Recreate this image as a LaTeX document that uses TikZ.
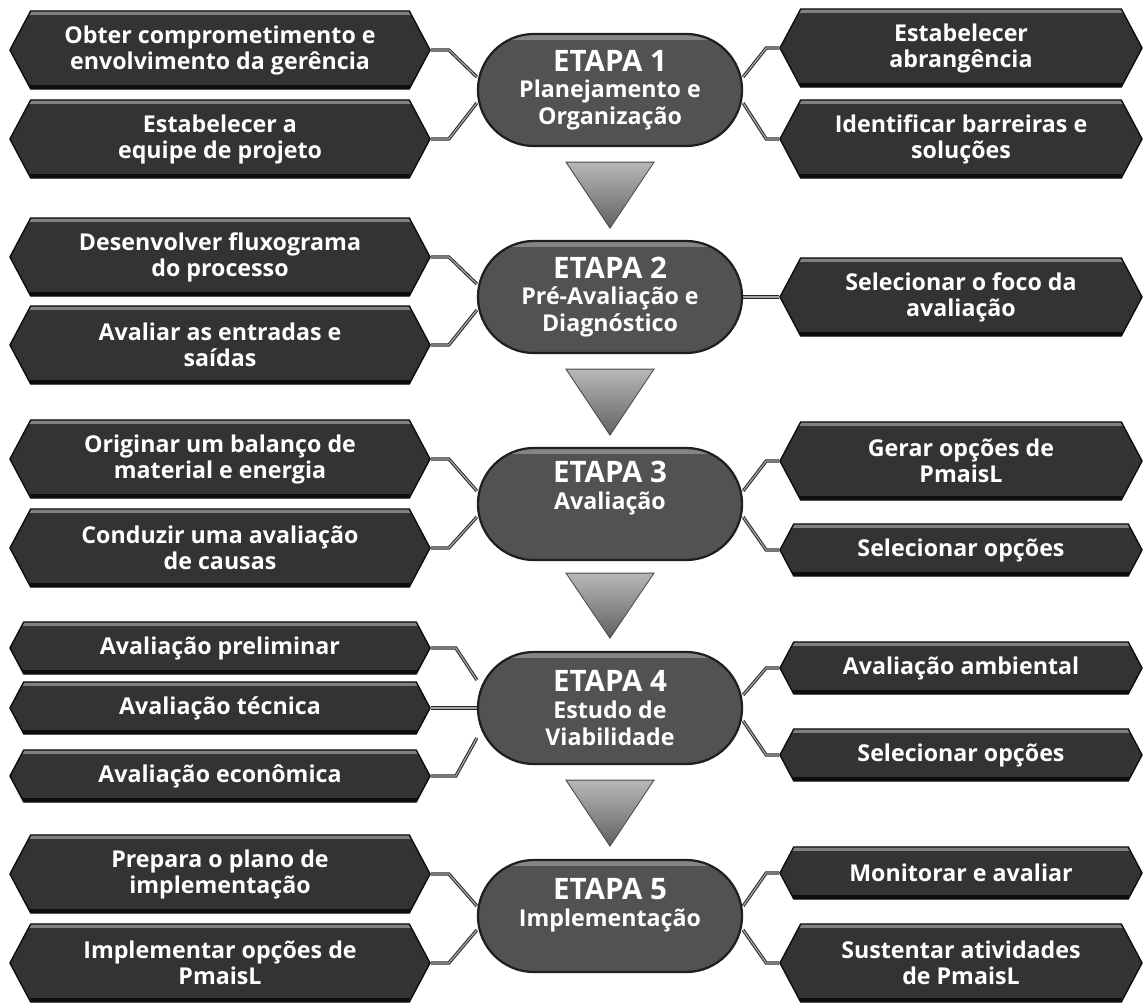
\documentclass[tikz,border=0pt]{standalone}
\usepackage{fontspec}
\setmainfont{Open Sans}
\usetikzlibrary{calc,shapes.symbols,shapes.misc,backgrounds}

\newcommand{\etapatit}[1]{{\fontsize{21}{24}\selectfont ETAPA #1}}

\begin{document}
\begin{tikzpicture}[x=0.025cm, y=-0.025cm,
    box/.style={signal, signal to=west and east, signal pointer angle=124,
        draw=black!95, line width=1pt, fill=black!80, text=white, inner sep=0pt,
        font=\fontsize{16.5}{18.5}\selectfont\bfseries, align=center,
        path picture={
            \fill[black!50] (path picture bounding box.north west) rectangle ([yshift=-3pt]path picture bounding box.north east);
            \fill[black!95] (path picture bounding box.south west) rectangle ([yshift=3pt]path picture bounding box.south east);
        }},
    lbox/.style={box, minimum width=10.5cm},
    rbox/.style={box, minimum width=9.05cm},
    tall/.style={minimum height=1.95cm},
    short/.style={minimum height=1.3cm},
    etapa/.style={rounded rectangle, minimum width=6.6cm, minimum height=2.8cm,
        draw=black!88, line width=1.6pt, fill=black!68, text=white, inner sep=0pt,
        font=\fontsize{16.5}{19}\selectfont\bfseries, align=center,
        path picture={
            \fill[black!48] (path picture bounding box.north west) rectangle ([yshift=-4pt]path picture bounding box.north east);
        }},
    link/.style={draw=black!85, line width=0.7pt, double=gray!70, double distance=0.9pt},
    seta/.style={top color=black!28, bottom color=black!62, draw=black!70, line width=0.6pt}
]

    \useasboundingbox (0,0) rectangle (1145,1003);

    % --- 1. Planejamento e Organizacao ---
    \node[etapa] (P1) at (610,90) {\etapatit{1}\\Planejamento e\\Organização};
    \node[lbox, tall] (L1a) at (220,50)  {Obter comprometimento e\\envolvimento da gerência};
    \node[lbox, tall] (L1b) at (220,139) {Estabelecer a\\equipe de projeto};
    \node[rbox, tall] (R1a) at (961,48)  {Estabelecer\\abrangência};
    \node[rbox, tall] (R1b) at (961,139) {Identificar barreiras e\\soluções};

    % --- 2. Pre-Avaliacao e Diagnostico ---
    \node[etapa] (P2) at (610,297) {\etapatit{2}\\Pré-Avaliação e\\Diagnóstico};
    \node[lbox, tall] (L2a) at (220,257) {Desenvolver fluxograma\\do processo};
    \node[lbox, tall] (L2b) at (220,345) {Avaliar as entradas e\\saídas};
    \node[rbox, tall] (R2a) at (961,297) {Selecionar o foco da\\avaliação};

    % --- 3. Avaliacao ---
    \node[etapa] (P3) at (610,504) {\etapatit{3}\\Avaliação\\[8pt]~};
    \node[lbox, tall] (L3a) at (220,459) {Originar um balanço de\\material e energia};
    \node[lbox, tall] (L3b) at (220,548) {Conduzir uma avaliação\\de causas};
    \node[rbox, tall] (R3a) at (961,461) {Gerar opções de\\PmaisL};
    \node[rbox, short] (R3b) at (961,550) {Selecionar opções};

    % --- 4. Estudo de Viabilidade ---
    \node[etapa] (P4) at (610,708) {\etapatit{4}\\Estudo de\\Viabilidade};
    \node[lbox, short] (L4a) at (220,648) {Avaliação preliminar};
    \node[lbox, short] (L4b) at (220,708) {Avaliação técnica};
    \node[lbox, short] (L4c) at (220,776) {Avaliação econômica};
    \node[rbox, short] (R4a) at (961,668) {Avaliação ambiental};
    \node[rbox, short] (R4b) at (961,755) {Selecionar opções};

    % --- 5. Implementacao ---
    \node[etapa] (P5) at (610,916) {\etapatit{5}\\Implementação\\~};
    \node[lbox, tall] (L5a) at (220,874) {Prepara o plano de\\implementação};
    \node[lbox, tall] (L5b) at (220,963) {Implementar opções de\\PmaisL};
    \node[rbox, short] (R5a) at (961,873) {Monitorar e avaliar};
    \node[rbox, tall] (R5b) at (961,963) {Sustentar atividades\\de PmaisL};

    % --- Connectors (behind the boxes) ---
    \begin{scope}[on background layer]
        \draw[link] (L1a.east) -- ++(18,0) -- ($(P1.west)+(0,-13)$);
        \draw[link] (L1b.east) -- ++(18,0) -- ($(P1.west)+(0,13)$);
        \draw[link] (R1a.west) -- ++(-13,0) -- ($(P1.east)+(0,-13)$);
        \draw[link] (R1b.west) -- ++(-13,0) -- ($(P1.east)+(0,13)$);

        \draw[link] (L2a.east) -- ++(18,0) -- ($(P2.west)+(0,-13)$);
        \draw[link] (L2b.east) -- ++(18,0) -- ($(P2.west)+(0,13)$);
        \draw[link] (R2a.west) -- (P2.east);

        \draw[link] (L3a.east) -- ++(18,0) -- ($(P3.west)+(0,-13)$);
        \draw[link] (L3b.east) -- ++(18,0) -- ($(P3.west)+(0,13)$);
        \draw[link] (R3a.west) -- ++(-13,0) -- ($(P3.east)+(0,-13)$);
        \draw[link] (R3b.west) -- ++(-13,0) -- ($(P3.east)+(0,13)$);

        \draw[link] (L4a.east) -- ++(25,0) -- ($(P4.west)+(0,-28)$);
        \draw[link] (L4b.east) -- (P4.west);
        \draw[link] (L4c.east) -- ++(25,0) -- ($(P4.west)+(0,30)$);
        \draw[link] (R4a.west) -- ++(-13,0) -- ($(P4.east)+(0,-13)$);
        \draw[link] (R4b.west) -- ++(-13,0) -- ($(P4.east)+(0,13)$);

        \draw[link] (L5a.east) -- ++(18,0) -- ($(P5.west)+(0,-10)$);
        \draw[link] (L5b.east) -- ++(18,0) -- ($(P5.west)+(0,14)$);
        \draw[link] (R5a.west) -- ++(-13,0) -- ($(P5.east)+(0,-10)$);
        \draw[link] (R5b.west) -- ++(-13,0) -- ($(P5.east)+(0,14)$);
    \end{scope}

    % --- Arrows between the stages ---
    \shade[seta] ($(P1.south)+(-44,15)$) -- ($(P1.south)+(44,15)$) -- ($(P1.south)+(0,81)$) -- cycle;
    \shade[seta] ($(P2.south)+(-44,15)$) -- ($(P2.south)+(44,15)$) -- ($(P2.south)+(0,81)$) -- cycle;
    \shade[seta] ($(P3.south)+(-44,12)$) -- ($(P3.south)+(44,12)$) -- ($(P3.south)+(0,77)$) -- cycle;
    \shade[seta] ($(P4.south)+(-44,15)$) -- ($(P4.south)+(44,15)$) -- ($(P4.south)+(0,81)$) -- cycle;

\end{tikzpicture}
\end{document}
